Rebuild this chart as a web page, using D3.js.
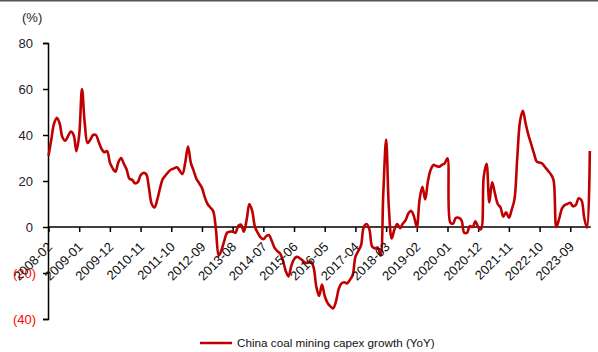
<!DOCTYPE html>
<html>
<head>
<meta charset="utf-8">
<script src="https://cdn.jsdelivr.net/npm/d3@7"></script>
<style>
  html, body { margin: 0; padding: 0; background: #fff; }
  svg { display: block; font-family: "Liberation Sans", Arial, sans-serif; }
</style>
</head>
<body>
<svg id="chart" width="598" height="352"></svg>
<script>
// Monthly YoY growth of China coal mining capex, Feb 2008 onward (%)
const startMonth = "2008-02";
const capexGrowth = [
  31, 38, 45, 47.5, 45, 39, 37.5, 39.5, 41.5, 40,
  33, 40, 60, 45, 36.5, 38, 40, 40, 37, 34,
  32.5, 33, 28, 25.5, 24, 28, 30, 27.5, 25, 21,
  20.5, 19, 19.5, 22.5, 23.5, 23, 17, 10, 8.5, 12,
  17, 21, 22.5, 24, 25, 25.5, 26, 24.5, 23, 28,
  35, 28, 24.5, 21, 19, 17, 13, 10, 8.5, 7,
  -1, -12.5, -10, -6, -2.5, -2, -2, -2.5, 0.5, 1,
  -2, 3, 10, 7, 0, -2.5, -4.5, -5.3, -4, -3.5,
  -6, -9, -10.5, -11.5, -14.5, -19, -21.5, -17, -14, -13,
  -13.5, -14.5, -15.5, -15.5, -15, -17.5, -26, -30, -25, -30,
  -33, -34.5, -35.4, -32.5, -27, -24.5, -24, -24.5, -23, -21,
  -13, -10.5, -8, 0, 1.3, -1, -8.5, -9.3, -9, -12.5,
  15, 38, 8, -5, -1, 1.3, -0.5, 1.5, 3, 6,
  7, 4.5, 0, 12, 17.5, 12, 20, 25, 27, 26.5,
  26.2, 27, 27.7, 29.9, 2, 1.5, 4, 4, 3, -2.5,
  -2.5, 0.4, 0, 2.5, 0, -1, 22, 27.5, 10.7, 19.4,
  14.6, 10, 8.5, 4.5, 6.4, 4, 7.5, 12, 30, 46,
  50.5, 45, 40, 36, 32, 28.4, 28, 27.5, 26, 24.5,
  23, 20.4, 0, 3.5, 8, 9.5, 10, 10.5, 9, 9.6,
  12.5, 11.7, 4, -0.3, 33
];
const xTickLabels = [
  "2008-02", "2009-01", "2009-12", "2010-11", "2011-10", "2012-09",
  "2013-08", "2014-07", "2015-06", "2016-05", "2017-04", "2018-03",
  "2019-02", "2020-01", "2020-12", "2021-11", "2022-10", "2023-09"
];
const yTicks = [-40, -20, 0, 20, 40, 60, 80];
const seriesName = "China coal mining capex growth (YoY)";
const unitLabel = "(%)";

const parseMonth = d3.utcParse("%Y-%m");
const fmtMonth = d3.utcFormat("%Y-%m");
const t0 = parseMonth(startMonth);
const months = capexGrowth.map((_, i) => fmtMonth(d3.utcMonth.offset(t0, i)));
const data = months.map((m, i) => ({ month: m, idx: i, value: capexGrowth[i] }));

const svg = d3.select("#chart");
const red = "#C00000";

const x = d3.scaleLinear().domain([0, capexGrowth.length - 1]).range([48.5, 589.8]);
const y = d3.scaleLinear().domain([-40, 80]).range([319, 43]);

// top rule
svg.append("line")
  .attr("x1", 0).attr("x2", 598).attr("y1", 0.75).attr("y2", 0.75)
  .attr("stroke", "#555").attr("stroke-width", 1.5);

// Y axis
const yAxis = d3.axisLeft(y).tickValues(yTicks).tickSize(5).tickPadding(0)
  .tickFormat(d => d < 0 ? `(${Math.abs(d)})` : `${d}`);
const gy = svg.append("g").attr("transform", "translate(48,0)").call(yAxis);
gy.select(".domain").attr("stroke", "#000").attr("stroke-width", 1.5);
gy.selectAll(".tick line").attr("stroke", "#000").attr("stroke-width", 1.5);
gy.selectAll(".tick text")
  .attr("font-size", 13)
  .attr("fill", d => d < 0 ? "#FF0000" : "#222")
  .attr("x", d => d < 0 ? -12 : -15)
  .attr("dy", "0.35em");

// X axis at zero line
const tickIdx = xTickLabels.map(l => months.indexOf(l));
const xAxis = d3.axisBottom(x).tickValues(tickIdx).tickSize(5).tickFormat("");
const gx = svg.append("g").attr("transform", `translate(0,${y(0)})`).call(xAxis);
gx.select(".domain").attr("stroke", "#000").attr("stroke-width", 1.5)
  .attr("d", `M${x(0) - 0.5},0H${x(capexGrowth.length - 1) + 1}`);
gx.selectAll(".tick line").attr("stroke", "#000").attr("stroke-width", 1.5);

// series line
const line = d3.line()
  .x(d => x(d.idx))
  .y(d => y(d.value))
  .curve(d3.curveCatmullRom.alpha(0.5));
svg.append("path")
  .datum(data)
  .attr("d", line)
  .attr("fill", "none")
  .attr("stroke", red)
  .attr("stroke-width", 2.6)
  .attr("stroke-linejoin", "round");

// rotated month labels
svg.append("g").selectAll("text")
  .data(xTickLabels)
  .join("text")
  .attr("transform", (d, i) => `translate(${x(tickIdx[i]) - 2},${y(0) + 14}) rotate(-45)`)
  .attr("text-anchor", "end")
  .attr("dy", "0.71em")
  .attr("font-size", 13)
  .attr("fill", "#111")
  .text(d => d);

// unit label
svg.append("text")
  .attr("x", 22).attr("y", 22)
  .attr("font-size", 13).attr("fill", "#222")
  .text(unitLabel);

// legend
const lg = svg.append("g").attr("transform", "translate(200,343)");
lg.append("line").attr("x1", 0).attr("x2", 32).attr("y1", 0).attr("y2", 0)
  .attr("stroke", red).attr("stroke-width", 2.5);
lg.append("text").attr("x", 37).attr("y", 0).attr("dy", "0.35em")
  .attr("font-size", 11.7).attr("fill", "#111").text(seriesName);
</script>
</body>
</html>
